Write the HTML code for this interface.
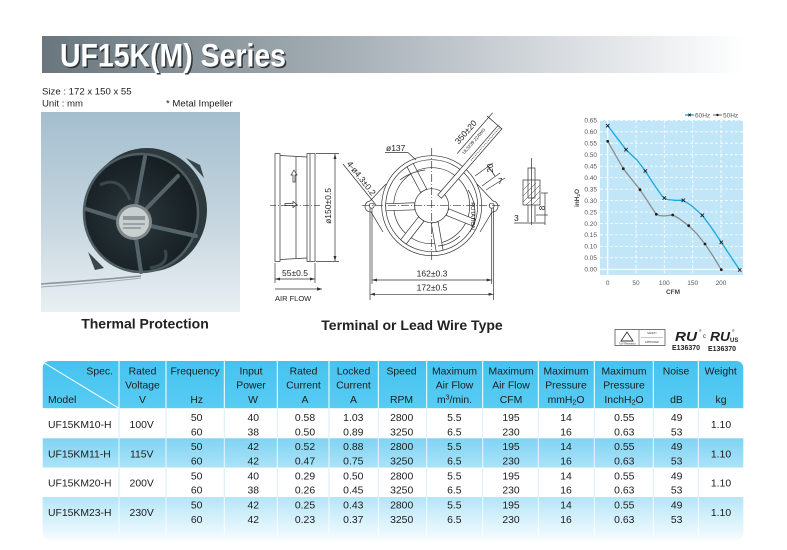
<!DOCTYPE html>
<html><head><meta charset="utf-8"><style>
html,body{margin:0;padding:0;background:#fff;}
svg{display:block;font-family:"Liberation Sans",Arial,sans-serif;}
</style></head><body>
<svg width="787" height="550" viewBox="0 0 787 550" xmlns="http://www.w3.org/2000/svg">
<defs>
<linearGradient id="hdr" x1="0" y1="0" x2="1" y2="0">
<stop offset="0" stop-color="#69767d"/><stop offset="0.45" stop-color="#a9b2b9"/><stop offset="0.75" stop-color="#dadee2"/><stop offset="1" stop-color="#ffffff"/>
</linearGradient>
<linearGradient id="photo" x1="0" y1="0" x2="0" y2="1">
<stop offset="0" stop-color="#a4bece"/><stop offset="0.55" stop-color="#c6d6df"/><stop offset="1" stop-color="#e9eff2"/>
</linearGradient>
<linearGradient id="th" x1="0" y1="0" x2="0" y2="1">
<stop offset="0" stop-color="#45c3ef"/><stop offset="1" stop-color="#58ccf3"/>
</linearGradient>
<linearGradient id="r2" x1="0" y1="0" x2="0" y2="1">
<stop offset="0" stop-color="#80d3f3"/><stop offset="1" stop-color="#abe3f8"/>
</linearGradient>
<linearGradient id="r4" x1="0" y1="0" x2="0" y2="1">
<stop offset="0" stop-color="#b4e5f8"/><stop offset="1" stop-color="#f6fcfe"/>
</linearGradient>
<clipPath id="tclip"><rect x="42.7" y="361" width="700.6" height="179" rx="7"/></clipPath>
<radialGradient id="fanface" cx="0.45" cy="0.55" r="0.6">
<stop offset="0" stop-color="#2b383d"/><stop offset="1" stop-color="#141c1f"/>
</radialGradient>
</defs>

<!-- Header bar -->
<rect x="42" y="36" width="705" height="37" fill="url(#hdr)"/>
<text x="61.5" y="68" font-size="32" font-weight="bold" fill="#2e3437" textLength="226" lengthAdjust="spacingAndGlyphs">UF15K(M) Series</text>
<text x="60" y="66.5" font-size="32" font-weight="bold" fill="#ffffff" textLength="226" lengthAdjust="spacingAndGlyphs">UF15K(M) Series</text>

<text x="42" y="94.3" font-size="9.6" fill="#222">Size : 172 x 150 x 55</text>
<text x="42" y="106.7" font-size="9.6" fill="#222">Unit  : mm</text>
<text x="166" y="106.7" font-size="9.6" fill="#222">* Metal Impeller</text>
<rect x="41" y="113" width="199" height="2" fill="#9fc4d8"/>

<!-- Photo -->
<rect x="41" y="112" width="199" height="200" fill="url(#photo)"/>
<g>
<path d="M186 158 L200 165 L204 178 Z" fill="#3a4549"/>
<path d="M88 252 L95 270 L104 268 Z" fill="#3a4549"/>
<ellipse cx="147" cy="210" rx="60" ry="62" fill="#2e393d"/>
<ellipse cx="141" cy="213" rx="57" ry="59" fill="url(#fanface)" stroke="#4e5d63" stroke-width="2.5"/>
<g stroke="#55636a" stroke-width="4" stroke-linecap="round">
<line x1="136" y1="205" x2="145" y2="157"/>
<line x1="136" y1="238" x2="141" y2="272"/>
<line x1="118" y1="219" x2="86" y2="209"/>
<line x1="151" y1="226" x2="196" y2="236"/>
<line x1="146" y1="209" x2="178" y2="176"/>
</g>
<path d="M100 185 Q120 175 130 200" stroke="#3b484d" stroke-width="3" fill="none"/>
<path d="M165 250 Q170 265 150 268" stroke="#3b484d" stroke-width="3" fill="none"/>
<circle cx="134" cy="222" r="18" fill="#7f898d"/>
<circle cx="134" cy="222" r="15" fill="#c9cecf"/>
<rect x="123" y="216" width="22" height="4" fill="#8e9699"/>
<rect x="123" y="223" width="22" height="2" fill="#9aa2a5"/>
<rect x="123" y="227" width="18" height="2" fill="#9aa2a5"/>
<path d="M141 276 Q100 280 41 284" stroke="#8a969b" stroke-width="1.6" fill="none"/>
<path d="M141 278 Q100 283 41 287" stroke="#a1acb0" stroke-width="1" fill="none"/>
</g>
<text x="145" y="328.5" font-size="14" font-weight="bold" fill="#222" text-anchor="middle">Thermal Protection</text>

<!-- Technical drawing -->
<g stroke="#333" stroke-width="0.7" fill="none">
<rect x="275" y="153.5" width="5" height="108"/>
<rect x="307" y="153.5" width="8" height="108"/>
<line x1="280" y1="155.5" x2="307" y2="157"/>
<line x1="280" y1="259.5" x2="307" y2="258"/>
<line x1="296" y1="157" x2="296" y2="258"/>
<line x1="310" y1="153.5" x2="310" y2="261.5"/>
<line x1="270" y1="205.7" x2="320" y2="205.7" stroke-dasharray="6,2,1,2"/>
<path d="M293 182 L293 175 L291 175 L294 170 L297 175 L295 175 L295 182 Z"/>
<path d="M285 204 L293 204 L293 202 L297 205 L293 208 L293 206 L285 206 Z" transform="translate(0,-0.5)"/>
<line x1="316" y1="153.5" x2="339" y2="153.5"/>
<line x1="316" y1="261.5" x2="339" y2="261.5"/>
<line x1="335" y1="154" x2="335" y2="261"/>
<line x1="275" y1="263" x2="275" y2="283"/>
<line x1="315" y1="263" x2="315" y2="283"/>
<line x1="275" y1="279" x2="315" y2="279"/>
<line x1="275" y1="289" x2="322" y2="289"/>
<circle cx="431.7" cy="205.7" r="50"/>
<circle cx="431.7" cy="205.7" r="46"/>
<circle cx="431.7" cy="205.7" r="38"/>
<path d="M386 184 L370 201 A5 5 0 0 0 371 212 L383 232"/>
<path d="M477 184 L493 201 A5 5 0 0 1 492 212 L480 232"/>
<circle cx="371.7" cy="205.7" r="2.5"/>
<circle cx="491.7" cy="205.7" r="2.5"/>
<g fill="#fff">
<rect x="17" y="-3.5" width="29" height="7" transform="translate(431.7,205.7) rotate(-118)"/>
<rect x="17" y="-3.5" width="29" height="7" transform="translate(431.7,205.7) rotate(178)"/>
<rect x="17" y="-3.5" width="29" height="7" transform="translate(431.7,205.7) rotate(128)"/>
<rect x="17" y="-3.5" width="29" height="7" transform="translate(431.7,205.7) rotate(80)"/>
<rect x="17" y="-3.5" width="29" height="7" transform="translate(431.7,205.7) rotate(22)"/>
<circle cx="431.7" cy="205.7" r="17"/>
</g>
<path d="M400 180 Q410 172 425 170"/>
<path d="M460 236 Q450 245 438 246"/>
<line x1="362" y1="205.7" x2="502" y2="205.7" stroke-dasharray="8,2,1,2"/>
<line x1="431.7" y1="148" x2="431.7" y2="262" stroke-dasharray="8,2,1,2"/>
<g transform="translate(431.7,205.7) rotate(-49)">
<rect x="12" y="-2.5" width="92" height="5" fill="#fff"/>
<line x1="60" y1="0" x2="104" y2="0" stroke-dasharray="1,1"/>
<line x1="56" y1="-15" x2="110" y2="-15"/>
<line x1="104" y1="-17" x2="104" y2="3"/>
</g>
<line x1="385" y1="152.5" x2="408" y2="152.5"/>
<line x1="408" y1="152.5" x2="416" y2="160"/>
<line x1="343" y1="164" x2="376" y2="205"/>
<line x1="475" y1="176" x2="493" y2="163"/>
<line x1="482" y1="186" x2="500" y2="173"/>
<line x1="488" y1="166" x2="495" y2="176"/>
<line x1="486" y1="190" x2="505" y2="178"/>
<line x1="370" y1="208" x2="370" y2="300"/>
<line x1="372" y1="208" x2="372" y2="284"/>
<line x1="493.6" y1="208" x2="493.6" y2="300"/>
<line x1="491.7" y1="208" x2="491.7" y2="284"/>
<line x1="372" y1="280" x2="491.7" y2="280"/>
<line x1="370" y1="294.3" x2="493.6" y2="294.3"/>
<path d="M468 190 A40 40 0 0 1 470 232"/>
<rect x="523" y="180" width="17" height="25"/>
<rect x="528" y="168" width="7" height="30"/>
<line x1="531.5" y1="158" x2="531.5" y2="225"/>
<line x1="528" y1="205" x2="528" y2="222"/>
<line x1="535" y1="205" x2="535" y2="222"/>
<line x1="541" y1="193" x2="548" y2="193"/>
<line x1="536" y1="215" x2="548" y2="215"/>
<line x1="545" y1="193" x2="545" y2="225"/>
<line x1="514" y1="223" x2="545" y2="223"/>
</g>
<g stroke="#333" stroke-width="0.5">
<line x1="523" y1="190" x2="530" y2="183"/><line x1="523" y1="196" x2="536" y2="183"/>
<line x1="523" y1="202" x2="540" y2="185"/><line x1="526" y1="205" x2="540" y2="191"/>
<line x1="532" y1="205" x2="540" y2="197"/>
</g>
<g fill="#333">
<path d="M335 154 l-1.5 5 h3 z"/><path d="M335 261 l-1.5 -5 h3 z"/>
<path d="M275 279 l5 -1.5 v3 z"/><path d="M315 279 l-5 -1.5 v3 z"/>
<path d="M322 289 l-5 -1.8 v3.6 z"/>
<path d="M372 280 l5 -1.5 v3 z"/><path d="M491.7 280 l-5 -1.5 v3 z"/>
<path d="M370 294.3 l5 -1.5 v3 z"/><path d="M493.6 294.3 l-5 -1.5 v3 z"/>
</g>
<g font-size="8.5" fill="#222">
<text x="295" y="276" text-anchor="middle">55±0.5</text>
<text x="275" y="301" font-size="7.5">AIR FLOW</text>
<text transform="translate(331,206) rotate(-90)" text-anchor="middle">ø150±0.5</text>
<text x="432" y="276.5" text-anchor="middle">162±0.3</text>
<text x="432" y="290.5" text-anchor="middle">172±0.5</text>
<text x="386" y="151">ø137</text>
<text transform="translate(359,180) rotate(52)" text-anchor="middle">4-ø4.3±0.2</text>
<text transform="translate(468,134) rotate(-49)" text-anchor="middle">350±20</text>
<text transform="translate(475,142) rotate(-49)" text-anchor="middle" font-size="4.5">UL3239 22AWG</text>
<text transform="translate(493,168) rotate(-90)" text-anchor="middle" font-size="8">20</text>
<text x="498" y="184" font-size="8">7</text>
<text transform="translate(471,216) rotate(90)" text-anchor="middle" font-size="5.5">ROTATION</text>
<text transform="translate(545,208) rotate(-90)" text-anchor="middle" font-size="8">8</text>
<text x="514" y="221" font-size="8.5">3</text>
</g>
<text x="412" y="330" font-size="14" font-weight="bold" fill="#222" text-anchor="middle">Terminal or Lead Wire Type</text>

<!-- Chart -->
<rect x="600" y="120" width="143" height="155" fill="#c0e6f8"/>
<g stroke="#fff" stroke-width="0.8" stroke-dasharray="3,2">
<line x1="600" y1="257.8" x2="743" y2="257.8"/>
<line x1="600" y1="246.4" x2="743" y2="246.4"/>
<line x1="600" y1="234.9" x2="743" y2="234.9"/>
<line x1="600" y1="223.5" x2="743" y2="223.5"/>
<line x1="600" y1="212.0" x2="743" y2="212.0"/>
<line x1="600" y1="200.6" x2="743" y2="200.6"/>
<line x1="600" y1="189.1" x2="743" y2="189.1"/>
<line x1="600" y1="177.6" x2="743" y2="177.6"/>
<line x1="600" y1="166.2" x2="743" y2="166.2"/>
<line x1="600" y1="154.7" x2="743" y2="154.7"/>
<line x1="600" y1="143.2" x2="743" y2="143.2"/>
<line x1="600" y1="131.8" x2="743" y2="131.8"/>
<line x1="600" y1="120.3" x2="743" y2="120.3"/>
<line x1="636" y1="120" x2="636" y2="275"/>
<line x1="664.3" y1="120" x2="664.3" y2="275"/>
<line x1="692.7" y1="120" x2="692.7" y2="275"/>
<line x1="721" y1="120" x2="721" y2="275"/>
</g>
<line x1="607.7" y1="120" x2="607.7" y2="275" stroke="#fff" stroke-width="1.2"/>
<line x1="600" y1="269.3" x2="743" y2="269.3" stroke="#fff" stroke-width="1.2"/>
<polyline points="607.7,141.3 623.3,168.7 640,189.7 655,212.5 659,215.5 664,216 672.7,215 679,218.5 688.7,225.7 697,234 705,244 713,256 721.3,269.7" fill="none" stroke="#8c8c8c" stroke-width="1.3" stroke-linejoin="round"/>
<polyline points="607.7,125.7 626,149.7 637,160 645.3,171 655,186 662,196 667,199.5 675,200.3 683.3,200.3 692,206 702.3,215.3 711,227 721.3,242.3 739.7,270" fill="none" stroke="#19a8df" stroke-width="1.3" stroke-linejoin="round"/>
<g fill="#222">
<circle cx="607.7" cy="141.3" r="1.4"/><circle cx="623.3" cy="168.7" r="1.4"/><circle cx="640" cy="189.7" r="1.4"/><circle cx="656.3" cy="214.3" r="1.4"/><circle cx="672.7" cy="215" r="1.4"/><circle cx="688.7" cy="225.7" r="1.4"/><circle cx="705" cy="244" r="1.4"/><circle cx="721.3" cy="269.7" r="1.4"/>
</g>
<g stroke="#222" stroke-width="0.9">
<path d="M606 124 l3.4 3.4 M609.4 124 l-3.4 3.4"/>
<path d="M624.3 148 l3.4 3.4 M627.7 148 l-3.4 3.4"/>
<path d="M643.6 169.3 l3.4 3.4 M647 169.3 l-3.4 3.4"/>
<path d="M662.6 196.3 l3.4 3.4 M666 196.3 l-3.4 3.4"/>
<path d="M681.6 198.6 l3.4 3.4 M685 198.6 l-3.4 3.4"/>
<path d="M700.6 213.6 l3.4 3.4 M704 213.6 l-3.4 3.4"/>
<path d="M719.6 240.6 l3.4 3.4 M723 240.6 l-3.4 3.4"/>
<path d="M738 268.3 l3.4 3.4 M741.4 268.3 l-3.4 3.4"/>
</g>
<g font-size="6.5" fill="#555" text-anchor="end">
<text x="597" y="271.6">0.00</text><text x="597" y="260.1">0.05</text><text x="597" y="248.7">0.10</text>
<text x="597" y="237.2">0.15</text><text x="597" y="225.8">0.20</text><text x="597" y="214.3">0.25</text>
<text x="597" y="202.9">0.30</text><text x="597" y="191.4">0.35</text><text x="597" y="179.9">0.40</text>
<text x="597" y="168.5">0.45</text><text x="597" y="157.0">0.50</text><text x="597" y="145.5">0.55</text>
<text x="597" y="134.1">0.60</text><text x="597" y="122.6">0.65</text>
</g>
<g font-size="6.5" fill="#555" text-anchor="middle">
<text x="607.7" y="285">0</text><text x="636" y="285">50</text><text x="664.3" y="285">100</text><text x="692.7" y="285">150</text><text x="721" y="285">200</text>
</g>
<text x="673" y="294" font-size="6.5" font-weight="bold" fill="#444" text-anchor="middle">CFM</text>
<text transform="translate(579,198) rotate(-90)" font-size="6.5" font-weight="bold" fill="#444" text-anchor="middle">inH<tspan font-size="4.5" dy="1">2</tspan><tspan dy="-1">O</tspan></text>
<line x1="685" y1="115" x2="694" y2="115" stroke="#19a8df" stroke-width="1.3"/>
<path d="M688.3 113.7 l2.6 2.6 M690.9 113.7 l-2.6 2.6" stroke="#222" stroke-width="0.8"/>
<text x="695" y="117.3" font-size="6.5" fill="#555">60Hz</text>
<line x1="713" y1="115" x2="722" y2="115" stroke="#8c8c8c" stroke-width="1.3"/>
<circle cx="717.5" cy="115" r="1.2" fill="#222"/>
<text x="723" y="117.3" font-size="6.5" fill="#555">50Hz</text>

<!-- Logos -->
<rect x="615" y="329.5" width="50" height="16" fill="#fff" stroke="#555" stroke-width="0.8"/>
<line x1="639" y1="330" x2="639" y2="345" stroke="#555" stroke-width="0.6"/>
<line x1="641" y1="337.5" x2="663" y2="337.5" stroke="#777" stroke-width="0.4"/>
<path d="M621 341 L627 332 L633 341 Z" fill="none" stroke="#333" stroke-width="0.9"/>
<text x="627" y="344.5" font-size="2.5" fill="#333" text-anchor="middle">TUV Rheinland</text>
<text x="652" y="334" font-size="2.5" fill="#333" text-anchor="middle">SAFETY</text>
<text x="652" y="343" font-size="2.5" fill="#333" text-anchor="middle">APPROVED</text>
<text x="686" y="341" font-size="13" font-weight="bold" font-style="italic" fill="#222" text-anchor="middle" textLength="22" lengthAdjust="spacingAndGlyphs">RU</text>
<text x="699" y="332" font-size="3.5" fill="#333">®</text>
<text x="686" y="350" font-size="7" font-weight="bold" fill="#222" text-anchor="middle">E136370</text>
<text x="703" y="338" font-size="6" fill="#222">c</text>
<text x="720" y="341" font-size="13" font-weight="bold" font-style="italic" fill="#222" text-anchor="middle" textLength="20" lengthAdjust="spacingAndGlyphs">RU</text>
<text x="730" y="342" font-size="6" font-weight="bold" fill="#222">US</text>
<text x="732" y="332" font-size="3.5" fill="#333">®</text>
<text x="722" y="351" font-size="7" font-weight="bold" fill="#222" text-anchor="middle">E136370</text>

<!-- Table -->
<g clip-path="url(#tclip)">
<rect x="42" y="361" width="702" height="47.3" fill="url(#th)"/>
<rect x="42" y="408.3" width="702" height="30" fill="#fff"/>
<rect x="42" y="438.3" width="702" height="29.4" fill="url(#r2)"/>
<rect x="42" y="467.7" width="702" height="29.3" fill="#fff"/>
<rect x="42" y="497" width="702" height="43" fill="url(#r4)"/>
</g>
<g stroke="#fff" stroke-width="1">
<line x1="42.7" y1="362" x2="119" y2="408.3"/>
<line x1="119" y1="361" x2="119" y2="408.3"/><line x1="166" y1="361" x2="166" y2="408.3"/>
<line x1="224.3" y1="361" x2="224.3" y2="408.3"/><line x1="277.3" y1="361" x2="277.3" y2="408.3"/>
<line x1="329" y1="361" x2="329" y2="408.3"/><line x1="378.3" y1="361" x2="378.3" y2="408.3"/>
<line x1="426.7" y1="361" x2="426.7" y2="408.3"/><line x1="482.7" y1="361" x2="482.7" y2="408.3"/>
<line x1="538.3" y1="361" x2="538.3" y2="408.3"/><line x1="594.3" y1="361" x2="594.3" y2="408.3"/>
<line x1="653.3" y1="361" x2="653.3" y2="408.3"/><line x1="698.3" y1="361" x2="698.3" y2="408.3"/>
</g>
<g stroke="#d6eef9" stroke-width="1">
<path d="M119 408.3V438.3M166 408.3V438.3M224.3 408.3V438.3M277.3 408.3V438.3M329 408.3V438.3M378.3 408.3V438.3M426.7 408.3V438.3M482.7 408.3V438.3M538.3 408.3V438.3M594.3 408.3V438.3M653.3 408.3V438.3M698.3 408.3V438.3"/>
<path d="M119 467.7V497M166 467.7V497M224.3 467.7V497M277.3 467.7V497M329 467.7V497M378.3 467.7V497M426.7 467.7V497M482.7 467.7V497M538.3 467.7V497M594.3 467.7V497M653.3 467.7V497M698.3 467.7V497"/>
</g>
<g stroke="#ffffff" stroke-width="1" stroke-opacity="0.8">
<path d="M119 438.3V467.7M166 438.3V467.7M224.3 438.3V467.7M277.3 438.3V467.7M329 438.3V467.7M378.3 438.3V467.7M426.7 438.3V467.7M482.7 438.3V467.7M538.3 438.3V467.7M594.3 438.3V467.7M653.3 438.3V467.7M698.3 438.3V467.7"/>
<path d="M119 497V535M166 497V535M224.3 497V535M277.3 497V535M329 497V535M378.3 497V535M426.7 497V535M482.7 497V535M538.3 497V535M594.3 497V535M653.3 497V535M698.3 497V535"/>
</g>
<g font-size="10.4" fill="#1c1c1c" text-anchor="middle">
<text x="113" y="374.3" text-anchor="end">Spec.</text>
<text x="48" y="402.8" text-anchor="start">Model</text>
<text x="142.5" y="374.3">Rated</text><text x="142.5" y="388.6">Voltage</text><text x="142.5" y="402.8">V</text>
<text x="195" y="374.3">Frequency</text><text x="196.7" y="402.8">Hz</text>
<text x="251" y="374.3">Input</text><text x="251" y="388.6">Power</text><text x="253" y="402.8">W</text>
<text x="303.5" y="374.3">Rated</text><text x="303.5" y="388.6">Current</text><text x="305" y="402.8">A</text>
<text x="353.5" y="374.3">Locked</text><text x="353.5" y="388.6">Current</text><text x="353.5" y="402.8">A</text>
<text x="401.5" y="374.3">Speed</text><text x="401.5" y="402.8">RPM</text>
<text x="454.5" y="374.3">Maximum</text><text x="454.5" y="388.6">Air Flow</text><text x="454.5" y="402.8">m<tspan font-size="7" dy="-3.5">3</tspan><tspan dy="3.5">/min.</tspan></text>
<text x="511" y="374.3">Maximum</text><text x="511" y="388.6">Air Flow</text><text x="511" y="402.8">CFM</text>
<text x="566" y="374.3">Maximum</text><text x="566" y="388.6">Pressure</text><text x="566" y="402.8">mmH<tspan font-size="7" dy="1.5">2</tspan><tspan dy="-1.5">O</tspan></text>
<text x="624" y="374.3">Maximum</text><text x="624" y="388.6">Pressure</text><text x="624" y="402.8">InchH<tspan font-size="7" dy="1.5">2</tspan><tspan dy="-1.5">O</tspan></text>
<text x="676" y="374.3">Noise</text><text x="676.5" y="402.8">dB</text>
<text x="720.7" y="374.3">Weight</text><text x="721" y="402.8">kg</text>
</g>
<g font-size="10.4" fill="#1c1c1c" text-anchor="middle">
<text x="48" y="428.2" text-anchor="start">UF15KM10-H</text>
<text x="141.7" y="428.2">100V</text>
<text x="721" y="428.2">1.10</text>
<text x="48" y="457.5" text-anchor="start">UF15KM11-H</text>
<text x="141.7" y="457.5">115V</text>
<text x="721" y="457.5">1.10</text>
<text x="48" y="486.5" text-anchor="start">UF15KM20-H</text>
<text x="141.7" y="486.5">200V</text>
<text x="721" y="486.5">1.10</text>
<text x="48" y="515.8" text-anchor="start">UF15KM23-H</text>
<text x="141.7" y="515.8">230V</text>
<text x="721" y="515.8">1.10</text>
</g>
<g font-size="10.4" fill="#1c1c1c" text-anchor="middle">
<text x="196.7" y="421">50</text><text x="196.7" y="435.4">60</text><text x="196.7" y="450">50</text><text x="196.7" y="464.7">60</text>
<text x="196.7" y="479.4">50</text><text x="196.7" y="493.7">60</text><text x="196.7" y="508.7">50</text><text x="196.7" y="523">60</text>

<text x="253.3" y="421">40</text><text x="253.3" y="435.4">38</text><text x="253.3" y="450">42</text><text x="253.3" y="464.7">42</text>
<text x="253.3" y="479.4">40</text><text x="253.3" y="493.7">38</text><text x="253.3" y="508.7">42</text><text x="253.3" y="523">42</text>

<text x="305" y="421">0.58</text><text x="305" y="435.4">0.50</text><text x="305" y="450">0.52</text><text x="305" y="464.7">0.47</text>
<text x="305" y="479.4">0.29</text><text x="305" y="493.7">0.26</text><text x="305" y="508.7">0.25</text><text x="305" y="523">0.23</text>

<text x="353.3" y="421">1.03</text><text x="353.3" y="435.4">0.89</text><text x="353.3" y="450">0.88</text><text x="353.3" y="464.7">0.75</text>
<text x="353.3" y="479.4">0.50</text><text x="353.3" y="493.7">0.45</text><text x="353.3" y="508.7">0.43</text><text x="353.3" y="523">0.37</text>

<text x="401.7" y="421">2800</text><text x="401.7" y="435.4">3250</text><text x="401.7" y="450">2800</text><text x="401.7" y="464.7">3250</text>
<text x="401.7" y="479.4">2800</text><text x="401.7" y="493.7">3250</text><text x="401.7" y="508.7">2800</text><text x="401.7" y="523">3250</text>

<text x="454.3" y="421">5.5</text><text x="454.3" y="435.4">6.5</text><text x="454.3" y="450">5.5</text><text x="454.3" y="464.7">6.5</text>
<text x="454.3" y="479.4">5.5</text><text x="454.3" y="493.7">6.5</text><text x="454.3" y="508.7">5.5</text><text x="454.3" y="523">6.5</text>

<text x="511" y="421">195</text><text x="511" y="435.4">230</text><text x="511" y="450">195</text><text x="511" y="464.7">230</text>
<text x="511" y="479.4">195</text><text x="511" y="493.7">230</text><text x="511" y="508.7">195</text><text x="511" y="523">230</text>

<text x="566" y="421">14</text><text x="566" y="435.4">16</text><text x="566" y="450">14</text><text x="566" y="464.7">16</text>
<text x="566" y="479.4">14</text><text x="566" y="493.7">16</text><text x="566" y="508.7">14</text><text x="566" y="523">16</text>

<text x="624.3" y="421">0.55</text><text x="624.3" y="435.4">0.63</text><text x="624.3" y="450">0.55</text><text x="624.3" y="464.7">0.63</text>
<text x="624.3" y="479.4">0.55</text><text x="624.3" y="493.7">0.63</text><text x="624.3" y="508.7">0.55</text><text x="624.3" y="523">0.63</text>

<text x="676.7" y="421">49</text><text x="676.7" y="435.4">53</text><text x="676.7" y="450">49</text><text x="676.7" y="464.7">53</text>
<text x="676.7" y="479.4">49</text><text x="676.7" y="493.7">53</text><text x="676.7" y="508.7">49</text><text x="676.7" y="523">53</text>
</g>
</svg>
</body></html>
